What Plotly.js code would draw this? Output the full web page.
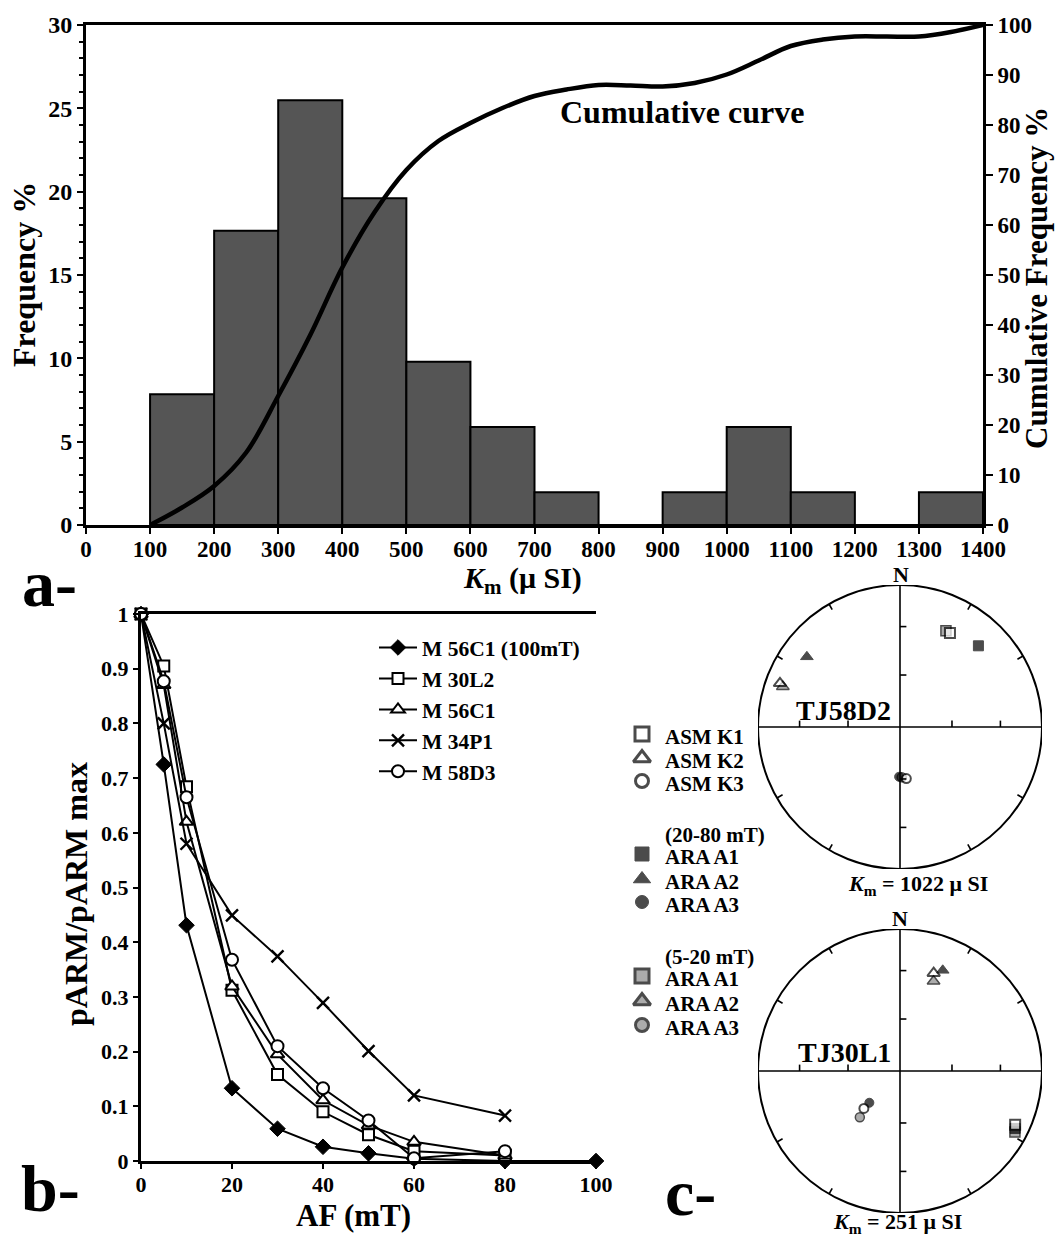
<!DOCTYPE html>
<html><head><meta charset="utf-8">
<script src="https://cdn.plot.ly/plotly-3.0.1.min.js"></script>
<style>html,body{margin:0;padding:0;background:#fff}#chart{width:1057px;height:1237px}</style>
</head><body><div id="chart"></div>
<script>
// ===== Panel a: Km histogram (frequency %) and cumulative curve =====
const binStart = [100,200,300,400,500,600,700,800,900,1000,1100,1200,1300];
const binWidth = 100;
const freqPct  = [7.84,17.65,25.49,19.61,9.80,5.88,1.96,0,1.96,5.88,1.96,0,1.96];
const cumKm  = [100,150,200,250,300,350,400,450,500,550,600,650,700,750,800,850,900,950,1000,1050,1100,1150,1200,1250,1300,1350,1400];
const cumPct = [0,3.5,7.8,14.5,25.8,38,51.5,62.5,71,76.8,80.4,83.4,85.8,87.1,88,87.9,87.7,88.4,90.1,92.9,95.8,97.1,97.7,97.7,97.7,98.6,100];

// ===== Panel b: AF demagnetisation of pARM =====
const afSteps = [0,5,10,20,30,40,50,60,80,100];
const bNames = ['M 56C1 (100mT)','M 30L2','M 56C1','M 34P1','M 58D3'];
const sM56C1_100 = [1,0.725,0.431,0.133,0.059,0.026,0.014,0.004,0,0];
const sM30L2     = [1,0.905,0.684,0.312,0.158,0.090,0.048,0.018,0.010,null];
const sM56C1     = [1,0.870,0.620,0.319,0.195,0.111,0.065,0.035,0.010,null];
const sM34P1     = [1,0.800,0.580,0.449,0.374,0.289,0.201,0.120,0.083,null];
const sM58D3     = [1,0.877,0.665,0.368,0.210,0.133,0.074,0.005,0.018,null];

// ===== Panel c: stereonets (trend, plunge in degrees) order: K1/A1, K2/A2, K3/A3 =====
const tj58_asm_trend = [28, 290, 173],    tj58_asm_plunge = [26, 11, 60];
const tj58_h_trend   = [44, 307, 181],    tj58_h_plunge   = [21.6, 19, 61.3];   // ARA 20-80 mT
const tj58_l_trend   = [25.5, 289, 178],  tj58_l_plunge   = [25.8, 13.8, 61];   // ARA 5-20 mT
const tj30_asm_trend = [115, 19, 224],    tj30_asm_plunge = [11.5, 28, 60];
const tj30_h_trend   = [116.5, 23, 224],  tj30_h_plunge   = [10.3, 24, 64.6];
const tj30_l_trend   = [118, 20.5, 221],  tj30_l_plunge   = [9.2, 33, 54.5];
const netNames = ['TJ58D2','TJ30L1'];
const netKm = [1022, 251];
const cLegLabels = ['ASM K1','ASM K2','ASM K3','ARA A1','ARA A2','ARA A3','ARA A1','ARA A2','ARA A3'];
const cLegHeads = ['(20-80 mT)','(5-20 mT)'];

// ===== helpers =====
const W = 1057, H = 1237;
const FF = 'Liberation Serif, Times New Roman, serif';
const fnt = s => ({family: FF, size: s, color: '#000', weight: 'bold'});
const px = x => x / W, py = y => 1 - y / H;
function proj(tr, pl){
  const r = Math.SQRT2 * Math.sin((90 - pl) * Math.PI / 360);
  return [r * Math.sin(tr * Math.PI / 180), r * Math.cos(tr * Math.PI / 180)];
}
function projAll(tr, pl){
  const xs = [], ys = [];
  tr.forEach((t, i) => { const p = proj(t, pl[i]); xs.push(p[0]); ys.push(p[1]); });
  return {x: xs, y: ys};
}

const traces = [];
// histogram bars
traces.push({type: 'bar', x: binStart, y: freqPct, width: binWidth, offset: 0,
  marker: {color: '#555555', line: {color: '#000', width: 2}}, xaxis: 'x', yaxis: 'y', showlegend: false});
// cumulative curve
traces.push({type: 'scatter', mode: 'lines', x: cumKm, y: cumPct, xaxis: 'x', yaxis: 'y2',
  line: {color: '#000', width: 4.5, shape: 'spline', smoothing: 1}, showlegend: false, cliponaxis: false});

// panel b series
const bSeries = [sM56C1_100, sM30L2, sM56C1, sM34P1, sM58D3];
const bMarkers = [
  {symbol: 'diamond', size: 12, color: '#000', line: {color: '#000', width: 1}},
  {symbol: 'square', size: 11, color: '#fff', line: {color: '#000', width: 2}},
  {symbol: 'triangle-up', size: 12, color: '#fff', line: {color: '#000', width: 2}},
  {symbol: 'x-thin', size: 12, color: '#000', line: {color: '#000', width: 2.4}},
  {symbol: 'circle', size: 12, color: '#fff', line: {color: '#000', width: 2}}
];
bSeries.forEach((s, i) => {
  traces.push({type: 'scatter', mode: 'lines+markers', name: bNames[i], x: afSteps, y: s,
    xaxis: 'x2', yaxis: 'y3', line: {color: '#000', width: 2}, marker: bMarkers[i],
    cliponaxis: false, showlegend: true});
});

// stereonet points
const netSyms = ['square', 'triangle-up', 'circle'];
const netSizes = [10, 11, 9];
const groupStyle = {
  l:   {color: '#8a8a8a', line: {color: '#000', width: 1.5}},
  h:   {color: '#000', line: {color: '#000', width: 1}},
  asm: {color: '#fff', line: {color: '#000', width: 2}}
};
const netData = [
  {xa: 'x3', ya: 'y4', l: [tj58_l_trend, tj58_l_plunge], h: [tj58_h_trend, tj58_h_plunge], asm: [tj58_asm_trend, tj58_asm_plunge]},
  {xa: 'x4', ya: 'y5', l: [tj30_l_trend, tj30_l_plunge], h: [tj30_h_trend, tj30_h_plunge], asm: [tj30_asm_trend, tj30_asm_plunge]}
];
netData.forEach(n => {
  ['l', 'h', 'asm'].forEach(g => {
    const p = projAll(n[g][0], n[g][1]);
    traces.push({type: 'scatter', mode: 'markers', x: p.x, y: p.y, xaxis: n.xa, yaxis: n.ya,
      marker: Object.assign({symbol: netSyms, size: netSizes}, groupStyle[g]), showlegend: false, cliponaxis: false});
  });
});

// panel c legend symbols (on a page-pixel overlay axis)
const cLegRowY = [737, 761, 784, 857, 882, 905, 979, 1004, 1028];
const cLegHeadY = [835, 957];
const cLegSymX = 642, cLegTxtX = 663;
const legSty = [
  {color: '#fff', line: {color: '#000', width: 3}},
  {color: '#000', line: {color: '#000', width: 1}},
  {color: '#8a8a8a', line: {color: '#000', width: 3}}
];
[0, 1, 2].forEach(g => {
  traces.push({type: 'scatter', mode: 'markers', xaxis: 'x5', yaxis: 'y6', showlegend: false, cliponaxis: false,
    x: [cLegSymX, cLegSymX, cLegSymX], y: cLegRowY.slice(g * 3, g * 3 + 3).map(v => v - 3),
    marker: Object.assign({symbol: netSyms, size: [14, 15, 13]}, legSty[g])});
});

// ===== shapes: stereonet frames =====
const shapes = [];
const r30 = Math.SQRT2 * Math.sin(30 * Math.PI / 180), r60 = Math.SQRT2 * Math.sin(15 * Math.PI / 180);
netData.forEach(n => {
  const b = {xref: n.xa, yref: n.ya, line: {color: '#000', width: 2}};
  shapes.push(Object.assign({type: 'circle', x0: -1, y0: -1, x1: 1, y1: 1}, b));
  shapes.push(Object.assign({type: 'line', x0: -1, y0: 0, x1: 1, y1: 0}, b, {line: {color: '#000', width: 1.6}}));
  shapes.push(Object.assign({type: 'line', x0: 0, y0: -1, x1: 0, y1: 1}, b, {line: {color: '#000', width: 1.6}}));
  [r60, r30].forEach(r => {
    [-1, 1].forEach(sg => {
      shapes.push(Object.assign({type: 'line', x0: sg * r, y0: 0, x1: sg * r, y1: 0.045}, b, {line: {color: '#000', width: 1.6}}));
      shapes.push(Object.assign({type: 'line', x0: 0, y0: sg * r, x1: 0.045, y1: sg * r}, b, {line: {color: '#000', width: 1.6}}));
    });
  });
  [30, 60, 120, 150, 210, 240, 300, 330].forEach(a => {
    const s = Math.sin(a * Math.PI / 180), c = Math.cos(a * Math.PI / 180);
    shapes.push(Object.assign({type: 'line', x0: s, y0: c, x1: 0.955 * s, y1: 0.955 * c}, b, {line: {color: '#000', width: 1.6}}));
  });
});

// ===== annotations =====
function ann(text, x, y, size, extra){
  return Object.assign({text: text, x: px(x), y: py(y), xref: 'paper', yref: 'paper', showarrow: false,
    xanchor: 'center', yanchor: 'middle', font: fnt(size)}, extra || {});
}
const annotations = [
  ann('Cumulative curve', 682, 112, 32),
  ann('Frequency %', 24, 275, 32, {textangle: -90}),
  ann('Cumulative Frequency %', 1037, 278, 31, {textangle: -90}),
  ann('<i>K</i><sub>m</sub> (μ SI)', 522, 580, 30),
  ann('a-', 49, 583, 66),
  ann('pARM/pARM max', 76, 894, 32, {textangle: -90}),
  ann('AF (mT)', 353, 1215, 31),
  ann('b-', 50, 1188, 66),
  ann('c-', 690, 1192, 66),
  ann('N', 901, 574, 22),
  ann('N', 900, 918, 22),
  ann(netNames[0], 893, 710, 28, {xanchor: 'right'}),
  ann(netNames[1], 893, 1052, 28, {xanchor: 'right'}),
  ann('<i>K</i><sub>m</sub> = ' + netKm[0] + ' μ SI', 918, 885, 22),
  ann('<i>K</i><sub>m</sub> = ' + netKm[1] + ' μ SI', 898, 1223, 22)
];
cLegLabels.forEach((t, i) => annotations.push(ann(t, cLegTxtX, cLegRowY[i], 21, {xanchor: 'left'})));
cLegHeads.forEach((t, i) => annotations.push(ann(t, cLegTxtX, cLegHeadY[i], 21, {xanchor: 'left'})));

const axBase = {showgrid: false, zeroline: false, showline: true, linecolor: '#000', tickcolor: '#000'};
const hid = {visible: false, showgrid: false, zeroline: false, fixedrange: true};
const layout = {
  width: W, height: H, margin: {l: 0, r: 0, t: 0, b: 0},
  paper_bgcolor: '#fff', plot_bgcolor: 'rgba(0,0,0,0)', font: fnt(20), bargap: 0,
  showlegend: true,
  legend: {x: px(374), y: py(627), xanchor: 'left', yanchor: 'top', font: fnt(21.5), bgcolor: 'rgba(0,0,0,0)',
    borderwidth: 0, tracegroupgap: 0, itemwidth: 38},
  xaxis: Object.assign({}, axBase, {domain: [px(86), px(983)], anchor: 'y', range: [0, 1400], tickmode: 'linear', tick0: 0, dtick: 100,
    ticks: 'outside', ticklen: 6, tickwidth: 2, linewidth: 3, mirror: true, tickfont: fnt(23), ticklabelstandoff: -5}),
  yaxis: Object.assign({}, axBase, {domain: [py(525), py(25)], anchor: 'x', range: [0, 30], tickmode: 'linear', tick0: 0, dtick: 5,
    ticks: 'outside', ticklen: 6, tickwidth: 2, linewidth: 3, tickfont: fnt(24),
    minor: {tickmode: 'linear', dtick: 1, ticks: 'outside', ticklen: 4, tickwidth: 2, tickcolor: '#000', showgrid: false}}),
  yaxis2: Object.assign({}, axBase, {overlaying: 'y', side: 'right', anchor: 'x', range: [0, 100], tickmode: 'linear', tick0: 0, dtick: 10,
    ticks: 'outside', ticklen: 7, tickwidth: 2, linewidth: 3, tickfont: fnt(23)}),
  xaxis2: Object.assign({}, axBase, {domain: [px(141), px(596)], anchor: 'y3', range: [0, 100], tickmode: 'linear', tick0: 0, dtick: 20,
    ticks: 'outside', ticklen: 5, tickwidth: 2, linewidth: 3, mirror: true, tickfont: fnt(22), ticklabelstandoff: -3}),
  yaxis3: Object.assign({}, axBase, {domain: [py(1161), py(614)], anchor: 'x2', range: [0, 1], tickmode: 'linear', tick0: 0, dtick: 0.1,
    ticks: 'outside', ticklen: 5, tickwidth: 2, linewidth: 3, tickfont: fnt(22)}),
  xaxis3: Object.assign({}, hid, {domain: [px(758), px(1042)], anchor: 'y4', range: [-1, 1]}),
  yaxis4: Object.assign({}, hid, {domain: [py(869), py(585)], anchor: 'x3', range: [-1, 1]}),
  xaxis4: Object.assign({}, hid, {domain: [px(758), px(1042)], anchor: 'y5', range: [-1, 1]}),
  yaxis5: Object.assign({}, hid, {domain: [py(1213), py(929)], anchor: 'x4', range: [-1, 1]}),
  xaxis5: Object.assign({}, hid, {domain: [0, 1], anchor: 'y6', range: [0, W]}),
  yaxis6: Object.assign({}, hid, {domain: [0, 1], anchor: 'x5', range: [H, 0]}),
  shapes: shapes, annotations: annotations
};
Plotly.newPlot('chart', traces, layout, {staticPlot: true, displayModeBar: false});
</script></body></html>
